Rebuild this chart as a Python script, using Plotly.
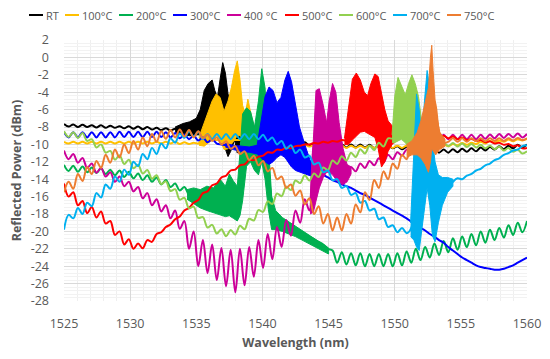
import plotly.graph_objects as go

# ---------------- data ----------------
WAVELENGTH = [
    1525.00, 1525.35, 1525.70, 1526.05, 1526.40, 1526.75, 1527.10, 1527.45, 1527.80, 1528.15,
    1528.50, 1528.85, 1529.20, 1529.55, 1529.90, 1530.25, 1530.60, 1530.95, 1531.30, 1531.65,
    1532.00, 1532.35, 1532.70, 1533.05, 1533.40, 1533.75, 1534.10, 1534.45, 1534.80, 1535.15,
    1535.50, 1535.85, 1536.20, 1536.55, 1536.90, 1537.25, 1537.60, 1537.95, 1538.30, 1538.65,
    1539.00, 1539.35, 1539.70, 1540.05, 1540.40, 1540.75, 1541.10, 1541.45, 1541.80, 1542.15,
    1542.50, 1542.85, 1543.20, 1543.55, 1543.90, 1544.25, 1544.60, 1544.95, 1545.30, 1545.65,
    1546.00, 1546.35, 1546.70, 1547.05, 1547.40, 1547.75, 1548.10, 1548.45, 1548.80, 1549.15,
    1549.50, 1549.85, 1550.20, 1550.55, 1550.90, 1551.25, 1551.60, 1551.95, 1552.30, 1552.65,
    1553.00, 1553.35, 1553.70, 1554.05, 1554.40, 1554.75, 1555.10, 1555.45, 1555.80, 1556.15,
    1556.50, 1556.85, 1557.20, 1557.55, 1557.90, 1558.25, 1558.60, 1558.95, 1559.30, 1559.65,
    1560.00,
]

SERIES_NAMES = ["RT", "100°C", "200°C", "300°C", "400 °C", "500°C", "600°C", "700°C", "750°C"]
SERIES_COLORS = ["#000000", "#FFC000", "#00B050", "#0000FF", "#CC0099",
                 "#FF0000", "#92D050", "#00B0F0", "#ED7D31"]

P_RT = [
    -7.65, -7.95, -7.7, -8.0, -7.75, -8.0, -7.8, -8.05, -7.8, -8.1,
    -7.85, -8.1, -7.9, -8.15, -7.9, -8.2, -7.95, -8.25, -8.0, -8.3,
    -8.1, -8.35, -8.15, -8.4, -8.2, -8.4, -8.3, -8.5, -8.4, -8.6,
    -8.5, -8.5, -8.5, -8.5, -8.5, -8.5, -8.5, -8.6, -8.6, -8.7,
    -8.55, -8.8, -8.65, -8.95, -8.8, -9.1, -9.0, -9.35, -9.25, -9.6,
    -9.5, -9.9, -9.75, -10.15, -9.9, -10.3, -10.0, -10.35, -10.0, -10.35,
    -10.0, -10.35, -10.0, -10.35, -10.0, -10.35, -10.05, -10.4, -10.05, -10.4,
    -10.1, -10.45, -10.2, -10.55, -10.3, -10.65, -10.4, -10.75, -10.5, -10.85,
    -10.6, -10.95, -10.6, -10.95, -10.55, -10.9, -10.5, -10.85, -10.45, -10.8,
    -10.35, -10.7, -10.3, -10.6, -10.2, -10.55, -10.15, -10.45, -10.05, -10.35,
    -10.0,
]
P_100 = [
    -9.7, -9.9, -9.7, -9.9, -9.7, -9.9, -9.7, -9.9, -9.7, -9.9,
    -9.7, -9.9, -9.7, -9.9, -9.7, -9.9, -9.7, -9.9, -9.7, -9.9,
    -9.7, -9.9, -9.7, -9.9, -9.7, -9.95, -9.75, -9.95, -9.8, -9.9,
    -9.5, -9.5, -9.5, -9.5, -9.5, -9.5, -9.5, -9.5, -9.5, -9.5,
    -9.6, -9.7, -9.8, -10.0, -9.85, -10.05, -9.9, -10.1, -9.95, -10.15,
    -10.0, -10.2, -10.05, -10.25, -10.1, -10.3, -10.15, -10.35, -10.15, -10.4,
    -10.15, -10.4, -10.15, -10.4, -10.15, -10.4, -10.15, -10.4, -10.15, -10.4,
    -10.15, -10.4, -10.15, -10.4, -10.15, -10.4, -10.1, -10.35, -10.1, -10.3,
    -10.05, -10.25, -10.0, -10.2, -9.95, -10.1, -9.85, -10.05, -9.8, -9.95,
    -9.7, -9.9, -9.6, -9.8, -9.55, -9.7, -9.45, -9.65, -9.4, -9.55,
    -9.35,
]
P_200 = [
    -12.35, -13.05, -12.45, -13.15, -12.55, -13.2, -12.65, -13.3, -12.75, -13.4,
    -12.9, -13.55, -13.0, -13.75, -13.15, -13.9, -13.35, -14.1, -13.55, -14.3,
    -13.8, -14.6, -14.1, -14.9, -14.5, -15.3, -14.9, -15.8, -16.0, -16.2,
    -16.4, -16.5, -16.6, -16.6, -16.4, -16.2, -16.0, -16.4, -14.0, -10.0,
    -9.0, -11.0, -10.0, -8.0, -12.0, -17.0, -18.5, -19.0, -19.3, -19.6,
    -19.8, -20.1, -20.3, -20.6, -20.9, -21.2, -21.5, -22.0, -22.2, -23.6,
    -22.4, -23.8, -22.5, -23.9, -22.5, -24.0, -22.6, -24.0, -22.6, -24.0,
    -22.6, -24.0, -22.5, -23.9, -22.3, -23.6, -22.0, -23.3, -21.8, -23.0,
    -21.4, -22.7, -21.1, -22.4, -20.8, -22.1, -20.6, -21.8, -20.3, -21.6,
    -20.0, -21.3, -19.8, -21.0, -19.6, -20.7, -19.3, -20.4, -19.0, -20.1,
    -18.8,
]
P_300 = [
    -8.6, -9.2, -8.6, -9.2, -8.6, -9.2, -8.6, -9.2, -8.6, -9.2,
    -8.6, -9.2, -8.55, -9.15, -8.55, -9.15, -8.55, -9.15, -8.55, -9.15,
    -8.55, -9.15, -8.6, -9.2, -8.7, -9.3, -8.85, -9.4, -9.0, -9.55,
    -9.2, -9.75, -9.4, -9.9, -10.0, -10.1, -10.3, -10.4, -10.5, -10.6,
    -10.6, -10.6, -10.6, -10.0, -8.5, -8.0, -8.5, -8.0, -7.0, -7.0,
    -8.5, -10.5, -11.5, -12.3, -12.9, -13.3, -13.5, -13.8, -14.1, -14.3,
    -14.6, -14.8, -15.0, -15.3, -15.6, -15.8, -16.1, -16.4, -16.7, -17.0,
    -17.3, -17.6, -17.9, -18.2, -18.5, -18.9, -19.2, -19.6, -19.9, -20.3,
    -20.6, -21.0, -21.3, -21.8, -22.2, -22.6, -23.0, -23.3, -23.6, -23.9,
    -24.1, -24.2, -24.3, -24.4, -24.4, -24.3, -24.1, -23.9, -23.6, -23.3,
    -23.0,
]
P_400 = [
    -10.7, -11.7, -11.1, -12.1, -11.55, -12.7, -12.2, -13.25, -12.7, -13.7,
    -13.2, -14.3, -13.7, -14.8, -14.3, -15.4, -14.9, -16.2, -15.6, -17.0,
    -16.3, -17.7, -17.0, -18.5, -17.6, -19.7, -18.8, -22.0, -20.0, -24.0,
    -21.0, -24.8, -21.5, -25.6, -21.9, -26.3, -22.1, -27.0, -22.0, -26.2,
    -21.8, -25.2, -21.0, -24.2, -20.3, -23.2, -19.5, -21.8, -18.7, -20.5,
    -17.6, -19.0, -16.3, -17.6, -10.0, -9.0, -9.0, -9.0, -8.0, -9.0,
    -11.0, -13.0, -12.6, -13.1, -12.2, -12.7, -11.9, -12.4, -11.6, -12.1,
    -11.2, -11.7, -10.9, -11.3, -10.6, -11.0, -10.2, -10.6, -9.8, -10.2,
    -8.9, -9.4, -8.9, -9.4, -8.9, -9.4, -8.9, -9.4, -8.9, -9.4,
    -8.9, -9.35, -8.85, -9.3, -8.8, -9.25, -8.8, -9.2, -8.75, -9.2,
    -8.8,
]
P_500 = [
    -14.5, -16.0, -15.5, -17.0, -16.5, -17.9, -17.2, -18.4, -17.7, -19.1,
    -18.8, -20.4, -20.0, -21.5, -20.9, -22.0, -21.4, -21.95, -21.0, -21.2,
    -20.3, -20.1, -19.5, -19.2, -18.6, -18.3, -17.6, -17.3, -16.7, -16.4,
    -15.6, -15.4, -14.7, -14.5, -13.8, -13.6, -13.0, -12.9, -12.4, -12.3,
    -11.8, -11.8, -11.4, -11.3, -10.9, -10.95, -10.6, -10.65, -10.35, -10.45,
    -10.2, -10.15, -10.0, -10.0, -9.85, -9.9, -9.7, -9.8, -9.6, -9.7,
    -9.5, -9.5, -6.0, -5.0, -5.0, -6.0, -6.0, -5.0, -6.0, -8.0,
    -9.0, -9.3, -9.3, -8.7, -8.9, -8.6, -8.9, -8.6, -8.9, -8.7,
    -9.0, -9.2, -9.0, -9.3, -9.1, -9.4, -9.2, -9.5, -9.35, -9.6,
    -9.5, -9.75, -9.65, -9.9, -9.8, -10.05, -9.95, -10.2, -10.1, -10.45,
    -10.4,
]
P_600 = [
    -8.5, -9.15, -8.6, -9.25, -8.7, -9.6, -9.4, -10.35, -10.0, -10.95,
    -10.75, -11.75, -11.25, -12.25, -11.75, -12.75, -12.35, -13.35, -12.95, -13.95,
    -13.55, -14.55, -14.25, -15.35, -15.15, -16.35, -16.15, -17.35, -17.15, -18.45,
    -18.35, -19.55, -19.25, -20.25, -19.75, -20.55, -19.85, -20.35, -19.35, -19.75,
    -18.55, -18.75, -17.55, -17.75, -16.55, -16.85, -15.65, -15.95, -14.85, -15.25,
    -14.15, -14.45, -13.55, -14.15, -13.35, -13.75, -12.65, -12.95, -11.85, -12.25,
    -11.35, -11.85, -10.95, -11.45, -10.55, -11.05, -10.15, -10.65, -9.8, -10.25,
    -9.3, -9.3, -6.0, -6.0, -7.0, -6.0, -7.0, -8.0, -9.5, -10.0,
    -9.8, -10.2, -9.8, -10.2, -9.85, -10.25, -9.9, -10.3, -9.95, -10.35,
    -10.05, -10.45, -10.15, -10.55, -10.25, -10.7, -10.4, -10.85, -10.6, -11.05,
    -10.8,
]
P_700 = [
    -19.8, -18.1, -18.5, -17.3, -18.0, -16.7, -17.1, -15.6, -16.1, -14.6,
    -15.1, -13.7, -14.3, -12.9, -13.5, -12.0, -12.5, -11.1, -11.7, -10.4,
    -11.1, -9.9, -10.45, -9.3, -9.8, -8.75, -9.25, -8.5, -9.1, -8.55,
    -9.4, -8.8, -9.4, -8.8, -9.4, -8.8, -9.4, -8.8, -9.4, -8.8,
    -9.4, -8.8, -9.4, -8.9, -9.6, -9.2, -10.0, -9.6, -10.5, -10.1,
    -11.0, -10.6, -11.5, -11.3, -12.3, -12.1, -13.2, -13.0, -14.1, -14.0,
    -15.0, -14.8, -15.8, -15.6, -16.7, -16.5, -17.6, -17.4, -18.6, -18.4,
    -19.5, -19.3, -20.1, -19.6, -20.2, -19.6, -12.0, -14.0, -10.0, -8.0,
    -14.0, -15.0, -16.0, -15.0, -14.3, -13.9, -14.0, -13.6, -13.4, -13.0,
    -12.8, -12.4, -12.2, -11.8, -11.6, -11.2, -11.0, -10.7, -10.6, -10.2,
    -10.1,
]
P_750 = [
    -15.5, -14.3, -15.1, -13.4, -14.2, -12.6, -13.4, -11.9, -12.7, -11.2,
    -12.1, -10.6, -11.5, -10.0, -11.0, -9.6, -10.6, -9.2, -10.2, -8.8,
    -9.7, -8.5, -9.35, -8.35, -9.2, -8.3, -9.1, -8.35, -9.2, -8.5,
    -9.3, -8.85, -9.6, -9.2, -10.0, -9.65, -10.5, -10.2, -11.1, -10.8,
    -11.8, -11.3, -12.4, -11.9, -13.1, -12.7, -14.0, -13.7, -15.0, -14.6,
    -15.9, -15.3, -16.9, -16.2, -18.0, -17.1, -19.1, -18.0, -19.9, -18.4,
    -19.9, -18.0, -19.1, -16.9, -17.8, -15.5, -16.4, -14.1, -15.0, -13.1,
    -14.0, -12.2, -12.8, -11.2, -11.7, -10.4, -10.9, -9.5, -8.5, -6.0,
    -5.0, -8.5, -9.8, -9.7, -9.3, -9.7, -9.3, -9.7, -9.3, -9.65,
    -9.3, -9.65, -9.3, -9.6, -9.3, -9.6, -9.3, -9.55, -9.25, -9.5,
    -9.3,
]

# Grating reflection peaks: upper / lower envelope of the dense noisy band
BAND_RT_WL = [1533.4, 1534.0, 1534.5, 1535.0, 1535.3, 1535.6, 1535.9, 1536.2, 1536.4, 1536.6,
              1536.8, 1537.0, 1537.2, 1537.4, 1537.6, 1537.9, 1538.1, 1538.3, 1538.6, 1538.9]
BAND_RT_UP = [-8.0, -7.6, -7.4, -7.0, -6.0, -3.8, -3.0, -2.6, -3.8, -4.6,
              -2.5, -0.6, -1.8, -4.2, -5.5, -6.5, -5.2, -6.8, -8.0, -8.4]
BAND_RT_LO = [-8.6, -8.9, -9.0, -8.9, -8.9, -8.9, -8.6, -8.2, -8.0, -8.3,
              -8.8, -9.5, -10.5, -11.4, -10.8, -9.5, -11.0, -9.8, -9.3, -9.0]

BAND_100_WL = [1535.2, 1535.6, 1535.9, 1536.2, 1536.5, 1536.8, 1537.1, 1537.4, 1537.65, 1537.9,
               1538.1, 1538.3, 1538.5, 1538.7, 1538.9, 1539.2, 1539.6]
BAND_100_UP = [-9.2, -7.5, -6.2, -5.0, -4.2, -4.6, -6.2, -5.0, -3.5, -1.5,
               -0.4, -2.5, -5.5, -6.5, -4.8, -7.0, -9.3]
BAND_100_LO = [-10.1, -10.2, -9.8, -9.5, -9.0, -9.5, -10.6, -10.5, -10.0, -9.5,
               -9.0, -9.0, -9.2, -9.5, -10.0, -10.2, -10.0]

BAND_200_WL = [1534.3, 1534.8, 1535.3, 1535.8, 1536.3, 1536.8, 1537.2, 1537.5, 1537.8, 1538.1,
               1538.3, 1538.5, 1538.8, 1539.1, 1539.4, 1539.7, 1539.95, 1540.2, 1540.45, 1540.7,
               1541.0, 1541.5, 1542.0, 1542.5, 1543.0, 1543.5, 1544.0, 1544.5, 1545.0]
BAND_200_UP = [-15.2, -15.0, -15.2, -14.8, -15.0, -14.0, -14.8, -13.4, -14.2, -14.8,
               -11.0, -6.5, -5.8, -6.2, -8.0, -5.0, -1.3, -3.5, -10.0, -16.0,
               -17.6, -18.4, -18.9, -19.4, -19.8, -20.3, -20.8, -21.4, -21.9]
BAND_200_LO = [-16.3, -16.8, -17.3, -17.6, -17.9, -18.1, -18.3, -18.2, -18.5, -18.8,
               -18.2, -16.5, -12.5, -12.0, -13.0, -13.5, -12.0, -14.0, -17.5, -19.8,
               -19.8, -20.0, -20.3, -20.6, -21.0, -21.4, -21.8, -22.2, -22.6]

BAND_300_WL = [1537.2, 1537.8, 1538.4, 1539.0, 1539.6, 1539.9, 1540.2, 1540.5, 1540.8, 1541.1,
               1541.4, 1541.7, 1541.95, 1542.2, 1542.5, 1542.8, 1543.2, 1543.6, 1544.0]
BAND_300_UP = [-9.9, -10.1, -10.2, -10.3, -10.1, -7.5, -4.5, -3.4, -3.8, -5.2,
               -4.6, -2.6, -1.6, -2.8, -5.5, -8.0, -10.0, -11.8, -12.8]
BAND_300_LO = [-10.3, -10.6, -10.8, -10.9, -11.1, -11.6, -12.0, -12.3, -12.0, -11.5,
               -11.2, -11.5, -12.0, -12.6, -13.0, -13.2, -13.4, -13.6, -13.6]

BAND_400_WL = [1543.6, 1543.85, 1544.05, 1544.3, 1544.6, 1544.85, 1545.05, 1545.3, 1545.55, 1545.8,
               1546.1, 1546.4, 1546.7]
BAND_400_UP = [-16.5, -9.0, -3.8, -3.6, -5.5, -7.5, -5.0, -3.0, -4.0, -7.5, -10.5, -12.3, -12.6]
BAND_400_LO = [-18.0, -17.8, -16.5, -15.0, -13.8, -13.2, -13.2, -13.5, -14.0, -14.5, -14.6, -14.3, -13.4]

BAND_500_WL = [1546.2, 1546.5, 1546.8, 1547.1, 1547.4, 1547.7, 1547.95, 1548.2, 1548.5, 1548.75,
               1549.0, 1549.25, 1549.5, 1549.8, 1550.1, 1550.4]
BAND_500_UP = [-9.3, -6.0, -2.5, -1.8, -2.6, -4.0, -4.4, -3.0, -1.9, -2.2,
               -4.2, -6.0, -7.3, -7.8, -8.4, -8.6]
BAND_500_LO = [-10.0, -10.0, -9.5, -9.0, -8.6, -8.5, -8.7, -8.9, -9.2, -10.5,
               -12.6, -12.0, -10.8, -10.0, -9.6, -9.2]

BAND_600_WL = [1549.8, 1550.0, 1550.25, 1550.5, 1550.8, 1551.05, 1551.3, 1551.55, 1551.8, 1552.05,
               1552.3, 1552.6]
BAND_600_UP = [-8.9, -4.5, -2.3, -3.2, -4.3, -3.0, -2.0, -3.0, -4.5, -7.5, -9.2, -9.6]
BAND_600_LO = [-9.8, -9.8, -9.6, -9.4, -9.8, -10.3, -10.8, -11.5, -13.0, -12.5, -10.8, -10.4]

BAND_700_WL = [1551.2, 1551.45, 1551.65, 1551.85, 1552.05, 1552.25, 1552.45, 1552.65, 1552.85, 1553.05,
               1553.3, 1553.6, 1554.0, 1554.4]
BAND_700_UP = [-19.0, -10.0, -4.2, -6.0, -9.5, -5.0, -1.5, -3.5, -9.5, -12.0,
               -13.5, -13.8, -13.8, -14.0]
BAND_700_LO = [-20.6, -21.0, -21.8, -22.2, -20.0, -17.5, -15.0, -17.0, -20.5, -21.2,
               -19.0, -17.0, -15.5, -14.8]

BAND_750_WL = [1550.9, 1551.3, 1551.7, 1552.0, 1552.3, 1552.55, 1552.7, 1552.8, 1552.9, 1553.1,
               1553.4, 1553.8]
BAND_750_UP = [-10.0, -9.6, -8.6, -7.2, -5.2, -3.5, 0.0, 1.4, -1.5, -6.0, -8.6, -9.4]
BAND_750_LO = [-11.5, -11.2, -11.2, -11.6, -12.3, -13.2, -12.0, -10.5, -10.8, -11.2, -10.6, -10.2]

SERIES_VALUES = [P_RT, P_100, P_200, P_300, P_400, P_500, P_600, P_700, P_750]
BANDS = [
    (BAND_RT_WL, BAND_RT_UP, BAND_RT_LO),
    (BAND_100_WL, BAND_100_UP, BAND_100_LO),
    (BAND_200_WL, BAND_200_UP, BAND_200_LO),
    (BAND_300_WL, BAND_300_UP, BAND_300_LO),
    (BAND_400_WL, BAND_400_UP, BAND_400_LO),
    (BAND_500_WL, BAND_500_UP, BAND_500_LO),
    (BAND_600_WL, BAND_600_UP, BAND_600_LO),
    (BAND_700_WL, BAND_700_UP, BAND_700_LO),
    (BAND_750_WL, BAND_750_UP, BAND_750_LO),
]

X_TICKS = [1525, 1530, 1535, 1540, 1545, 1550, 1555, 1560]
X_TICK_LABELS = ["1525", "1530", "1535", "1540", "1545", "1550", "1555", "1560"]
Y_TICKS = [-28, -26, -24, -22, -20, -18, -16, -14, -12, -10, -8, -6, -4, -2, 0, 2]
Y_TICK_LABELS = ["-28", "-26", "-24", "-22", "-20", "-18", "-16", "-14", "-12", "-10",
                 "-8", "-6", "-4", "-2", "0", "2"]

# ---------------- figure ----------------
# the page body keeps its default 8 px margin, so the figure is sized to sit inside it
PAGE_OFF = 8
W, H = 550 - 2 * PAGE_OFF, 359 - 2 * PAGE_OFF
M_L, M_T = 64 - PAGE_OFF, 40 - PAGE_OFF
PW, PH = 463, 261
M_R, M_B = W - M_L - PW, H - M_T - PH
TXT = "#595959"
FONT = "Open Sans"

fig = go.Figure()
for name, color, vals, (bwl, bup, blo) in zip(SERIES_NAMES, SERIES_COLORS, SERIES_VALUES, BANDS):
    fig.add_trace(go.Scatter(x=WAVELENGTH, y=vals, mode="lines", name=name,
                             line=dict(color=color, width=2, shape="spline", smoothing=1.0),
                             showlegend=False, hoverinfo="skip"))
    fig.add_trace(go.Scatter(x=bwl + bwl[::-1], y=bup + blo[::-1], mode="lines",
                             fill="toself", fillcolor=color,
                             line=dict(color=color, width=1), showlegend=False,
                             hoverinfo="skip"))

# custom legend row above the plot (short line + label, Excel style)
LEGEND_TEXT_W = [12, 30, 30, 30, 34, 30, 30, 30, 30]
LEG_Y_PX = 15 - PAGE_OFF
px = 29 - PAGE_OFF
shapes, annotations = [], []
for name, color, tw in zip(SERIES_NAMES, SERIES_COLORS, LEGEND_TEXT_W):
    yp = (M_T + PH - LEG_Y_PX) / PH
    shapes.append(dict(type="line", xref="paper", yref="paper",
                       x0=(px - M_L) / PW, x1=(px + 14 - M_L) / PW, y0=yp, y1=yp,
                       line=dict(color=color, width=2)))
    annotations.append(dict(xref="paper", yref="paper", x=(px + 15 - M_L) / PW, y=yp,
                            xanchor="left", yanchor="middle", text=name, showarrow=False,
                            font=dict(family=FONT, size=11, color=TXT)))
    px = px + 16 + tw + 8

fig.update_layout(
    width=W, height=H,
    margin=dict(l=M_L, r=M_R, t=M_T, b=M_B, autoexpand=False),
    paper_bgcolor="white", plot_bgcolor="white",
    font=dict(family=FONT, color=TXT, size=12),
    shapes=shapes, annotations=annotations,
    showlegend=False,
)
fig.update_xaxes(
    range=[1525, 1560], tickmode="array", tickvals=X_TICKS, ticktext=X_TICK_LABELS,
    showgrid=True, gridcolor="#D9D9D9", gridwidth=1, zeroline=False, showline=False,
    ticks="", ticklabelstandoff=13, tickfont=dict(size=12.5, color=TXT, family=FONT),
    minor=dict(dtick=1, tick0=1525, showgrid=True, gridcolor="#EFEFEF", gridwidth=1),
    title=dict(text="<b>Wavelength (nm)</b>", font=dict(size=12.5, color=TXT, family=FONT),
               standoff=9),
)
fig.update_yaxes(
    range=[-28, 2], tickmode="array", tickvals=Y_TICKS, ticktext=Y_TICK_LABELS,
    showgrid=True, gridcolor="#D9D9D9", gridwidth=1, zeroline=False, showline=False,
    ticks="", ticklabelstandoff=14, tickfont=dict(size=12.5, color=TXT, family=FONT),
    minor=dict(dtick=0.4, tick0=-28, showgrid=True, gridcolor="#F2F2F2", gridwidth=1),
    title=dict(text="<b>Reflected Power (dBm)</b>", font=dict(size=12.5, color=TXT, family=FONT),
               standoff=14),
)

fig.write_html("out.html")
